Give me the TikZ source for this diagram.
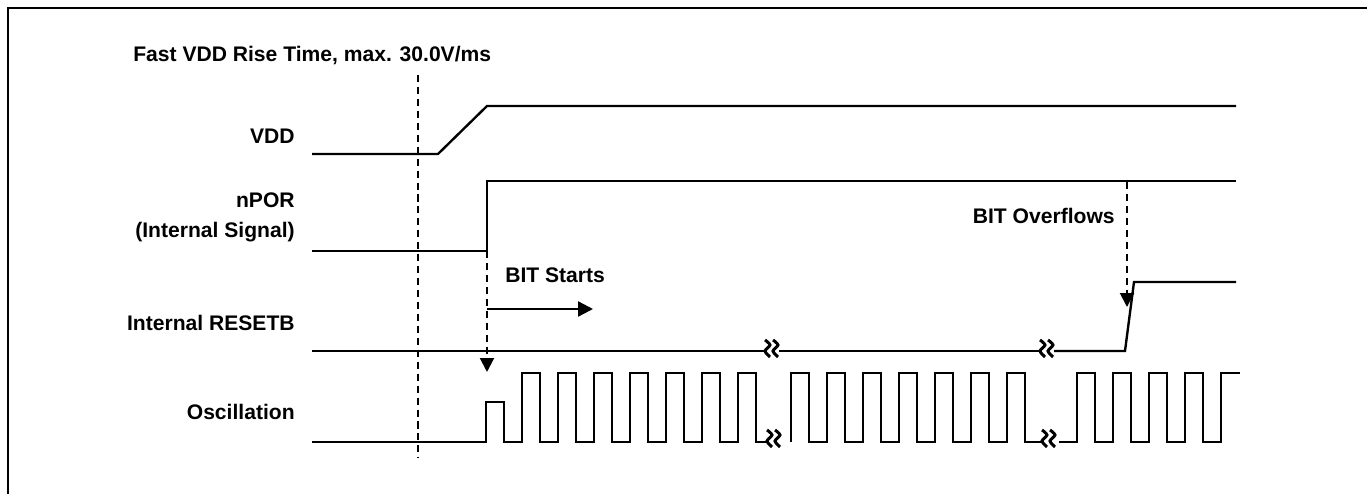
\documentclass[tikz,border=0pt]{standalone}
\usepackage{fontspec}
\setmainfont{Liberation Sans}
\usetikzlibrary{arrows.meta}
\tikzset{
  sig/.style={line width=1.35pt, line join=miter},
  guide/.style={line width=1.15pt, dash pattern=on 4pt off 2.8pt},
  lbl/.style={font=\bfseries\fontsize{12}{14}\selectfont, inner sep=0pt},
  tipdown/.style={-{Triangle[length=0.28cm,width=0.28cm]}},
  brk/.pic={
    \draw[line width=1.7pt] plot[smooth] coordinates {(-7,-9) (-2,-4) (-7,2) (-2,8)};
    \draw[line width=1.7pt] plot[smooth] coordinates {(1,-9) (6,-4) (1,2) (6,8)};
  }
}
\begin{document}
\begin{tikzpicture}[x=0.02cm,y=-0.02cm]
\useasboundingbox (0,0) rectangle (1367,494);
% frame
\draw[line width=1.1pt] (8,494) -- (8,8) -- (1367,8);

% labels
\node[lbl, anchor=base west] (title) at (133,61) {Fast VDD Rise Time, max. 30.0V/ms};
\node[lbl, anchor=base east] (vdd) at (295,143) {VDD};
\node[lbl, anchor=base east] (npor) at (295,207) {nPOR};
\node[lbl, anchor=base east] (nporsub) at (295,237) {(Internal Signal)};
\node[lbl, anchor=base east] (rst) at (295,330) {Internal RESETB};
\node[lbl, anchor=base east] (osc) at (295,419) {Oscillation};
\node[lbl, anchor=base west] (bitstart) at (505,282) {BIT Starts};
\node[lbl, anchor=base east] (bitover) at (1115,223) {BIT Overflows};

% key points
\coordinate (guideTop) at (418,75);
\coordinate (guideBot) at (418,458);
\coordinate (nporRise) at (487,251);
\coordinate (oscMark) at (487,372);
\coordinate (bitA) at (487,309);
\coordinate (bitB) at (593,309);
\coordinate (nporHigh) at (1127,182);
\coordinate (rstMark) at (1127,307);

% VDD
\draw[sig] (312,154) -- (438,154) -- (487,106) -- (1236,106);
% nPOR
\draw[sig] (312,251) -- (nporRise) -- (487,181) -- (1236,181);
% Internal RESETB
\draw[sig] (312,351) -- (765,351);
\draw[sig] (779,351) -- (1040,351);
\draw[sig] (1054,351) -- (1125,351) -- (1134,282) -- (1236,282);
\pic at (772,349) {brk};
\pic at (1047,349) {brk};

% Oscillation
\draw[sig] (312,442) -- (486,442) -- (486,402) -- (504,402) -- (504,442)
  \foreach \r in {522,558,594,630,666,702,738} { -- (\r,442) -- (\r,373) -- ({\r+18},373) -- ({\r+18},442) }
  -- (766,442);
\draw[sig] (791,442)
  \foreach \r in {791,827,863,899,935,971,1007} { -- (\r,442) -- (\r,373) -- ({\r+18},373) -- ({\r+18},442) }
  -- (1041,442);
\draw[sig] (1059,442)
  \foreach \r in {1077,1113,1149,1185} { -- (\r,442) -- (\r,373) -- ({\r+18},373) -- ({\r+18},442) }
  -- (1221,442) -- (1221,373) -- (1240,373);
\pic at (774,439) {brk};
\pic at (1049,439) {brk};

% guides and arrows
\draw[guide] (guideTop) -- (guideBot);
\draw[guide, tipdown] (nporRise) -- (oscMark);
\draw[line width=1.35pt, -{Triangle[length=0.3cm,width=0.3cm]}] (bitA) -- (bitB);
\draw[guide, tipdown] (nporHigh) -- (rstMark);
\end{tikzpicture}
\end{document}
